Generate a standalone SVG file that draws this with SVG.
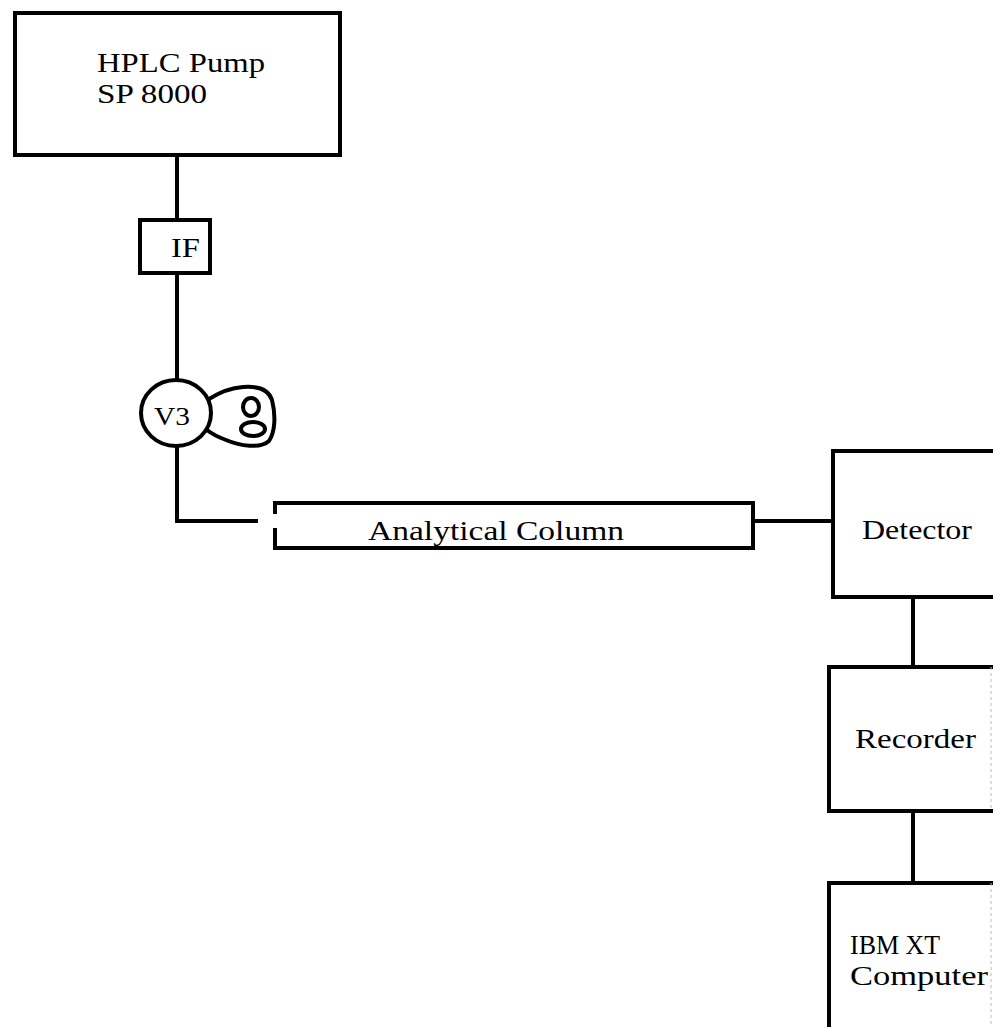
<svg xmlns="http://www.w3.org/2000/svg" width="993" height="1027" viewBox="0 0 993 1027">
<style>
.box{fill:none;stroke:#000;stroke-width:4}
.ln{fill:none;stroke:#000;stroke-width:4}
.t{font-family:"Liberation Serif","Times New Roman",serif;fill:#000}
.faint{stroke:#bbb;stroke-width:1;stroke-dasharray:3 3;fill:none}
</style>
<rect width="993" height="1027" fill="#fff"/>
<g id="connectors">
<line class="ln" x1="177" y1="155" x2="177" y2="220"/>
<line class="ln" x1="177" y1="273" x2="177" y2="380"/>
<polyline class="ln" points="177,445 177,521 258,521"/>
<line class="ln" x1="753" y1="521" x2="833" y2="521"/>
<line class="ln" x1="913" y1="597" x2="913" y2="667"/>
<line class="ln" x1="913" y1="811" x2="913" y2="883"/>
</g>
<g id="pump">
<rect class="box" x="15" y="13" width="325" height="142"/>
<text class="t" x="97" y="72" font-size="27" textLength="168" lengthAdjust="spacingAndGlyphs">HPLC Pump</text>
<text class="t" x="97" y="103" font-size="27" textLength="110" lengthAdjust="spacingAndGlyphs">SP 8000</text>
</g>
<g id="if">
<rect class="box" x="140" y="220" width="70" height="53"/>
<text class="t" x="171" y="257" font-size="27" textLength="29" lengthAdjust="spacingAndGlyphs">IF</text>
</g>
<g id="v3">
<ellipse class="box" cx="176" cy="413" rx="35" ry="33"/>
<text class="t" x="154" y="425" font-size="26" textLength="36" lengthAdjust="spacingAndGlyphs">V3</text>
<path class="ln" stroke-width="5" d="M209,399 C220,392 230,388 243,387 C256,386 268,388 272,400 C276,416 275,432 269,441 C260,449 240,446 226,440 C218,437 212,434 207,430"/>
<ellipse class="ln" stroke-width="6" cx="251" cy="407" rx="8" ry="9"/>
<ellipse class="ln" stroke-width="6" cx="253" cy="429" rx="12" ry="7"/>
</g>
<g id="column">
<path class="box" d="M275,514 L275,503 L753,503 L753,548 L275,548 L275,528"/>
<text class="t" x="368" y="540" font-size="28" textLength="256" lengthAdjust="spacingAndGlyphs">Analytical Column</text>
</g>
<g id="detector">
<path class="box" d="M1000,451 L833,451 L833,597 L1000,597"/>
<text class="t" x="862" y="539" font-size="27" textLength="110" lengthAdjust="spacingAndGlyphs">Detector</text>
</g>
<g id="recorder">
<path class="box" d="M1000,667 L829,667 L829,811 L1000,811"/>
<line class="faint" x1="991" y1="667" x2="991" y2="811"/>
<text class="t" x="855" y="748" font-size="27" textLength="121" lengthAdjust="spacingAndGlyphs">Recorder</text>
</g>
<g id="computer">
<path class="box" d="M1000,883 L829,883 L829,1030"/>
<line class="faint" x1="991" y1="883" x2="991" y2="1027"/>
<text class="t" x="850" y="954" font-size="27" textLength="90" lengthAdjust="spacingAndGlyphs">IBM XT</text>
<text class="t" x="850" y="985" font-size="27" textLength="138" lengthAdjust="spacingAndGlyphs">Computer</text>
</g>
</svg>
